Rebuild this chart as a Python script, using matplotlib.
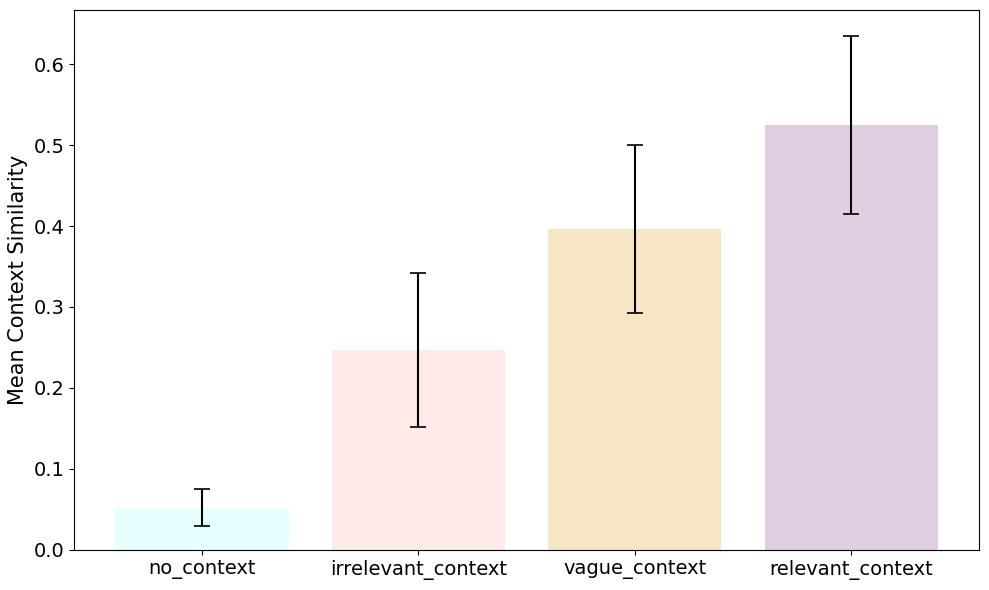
import matplotlib
matplotlib.use("Agg")
import matplotlib.pyplot as plt

categories = ["no_context", "irrelevant_context", "vague_context", "relevant_context"]
means = [0.052, 0.247, 0.396, 0.525]
errors = [0.023, 0.095, 0.104, 0.110]
colors = ["lightcyan", "mistyrose", "wheat", "thistle"]

fig, ax = plt.subplots(figsize=(9.89, 5.9), dpi=100)
ax.bar(categories, means, yerr=errors, capsize=6, color=colors, alpha=0.75,
       error_kw=dict(ecolor="black", elinewidth=1.5, capthick=1.2))
ax.set_ylabel("Mean Context Similarity", fontsize=15)
ax.tick_params(axis="both", labelsize=14)
fig.subplots_adjust(left=0.075, right=0.99, top=0.983, bottom=0.068)
fig.savefig("out.png", dpi=100)
